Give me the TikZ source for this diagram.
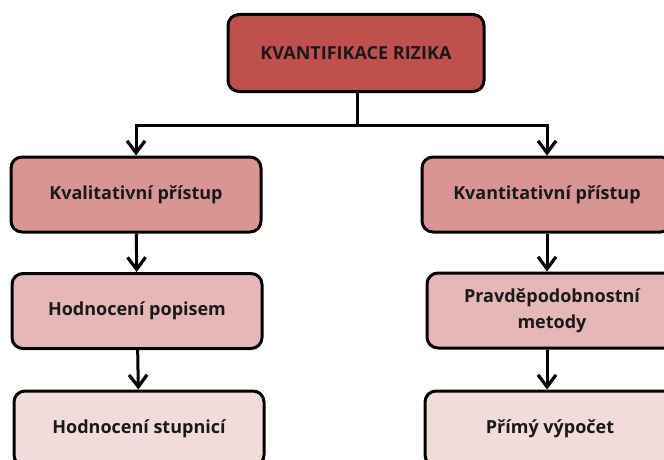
\documentclass[tikz,border=0pt]{standalone}
\usepackage{fontspec}
\setmainfont{Open Sans}
\usetikzlibrary{arrows.meta,positioning,calc}

\definecolor{topred}{HTML}{C0504D}
\definecolor{levelone}{HTML}{D99594}
\definecolor{leveltwo}{HTML}{E5B8B7}
\definecolor{levelthree}{HTML}{F2DBDB}

\begin{document}
\begin{tikzpicture}[x=1pt,y=-1pt,line width=3pt,
  box/.style={draw=black,rounded corners=11pt,minimum width=250pt,minimum height=75pt,align=center,font=\fontsize{18}{26}\selectfont\bfseries,text=black!90},
  top node/.style={box,fill=topred,minimum width=256pt,minimum height=77pt},
  one node/.style={box,fill=levelone},
  two node/.style={box,fill=leveltwo},
  three node/.style={box,fill=levelthree},
  arr/.style={-{Straight Barb[length=12pt,width=18pt,line width=3.2pt]}}]
  \useasboundingbox (0,0) rectangle (664,460);
  \clip (0,0) rectangle (664,460);

  \node[top node] (risk) at (356,53) {KVANTIFIKACE RIZIKA};
  \node[one node] (qual) at (136,194.5) {Kvalitativní přístup};
  \node[two node] (descr) at (137,311) {Hodnocení popisem};
  \node[three node] (scale) at (139,428.5) {Hodnocení stupnicí};
  \node[one node] (quant) at (547,194.5) {Kvantitativní přístup};
  \node[two node] (prob) at (552,310.5) {Pravděpodobnostní\\metody};
  \node[three node] (calc) at (550,428.5) {Přímý výpočet};

  \coordinate (split) at (357,125);

  \draw (risk.south -| split) -- (split);
  \draw[arr] (split) -| (qual.north);
  \draw[arr] (split) -| (quant.north);
  \path [arr] (qual) edge (descr);
  \path [arr] (descr) edge (scale);
  \path [arr] (quant.south) edge (quant.south |- prob.north);
  \path [arr] (quant.south |- prob.south) edge (quant.south |- calc.north);
\end{tikzpicture}
\end{document}
